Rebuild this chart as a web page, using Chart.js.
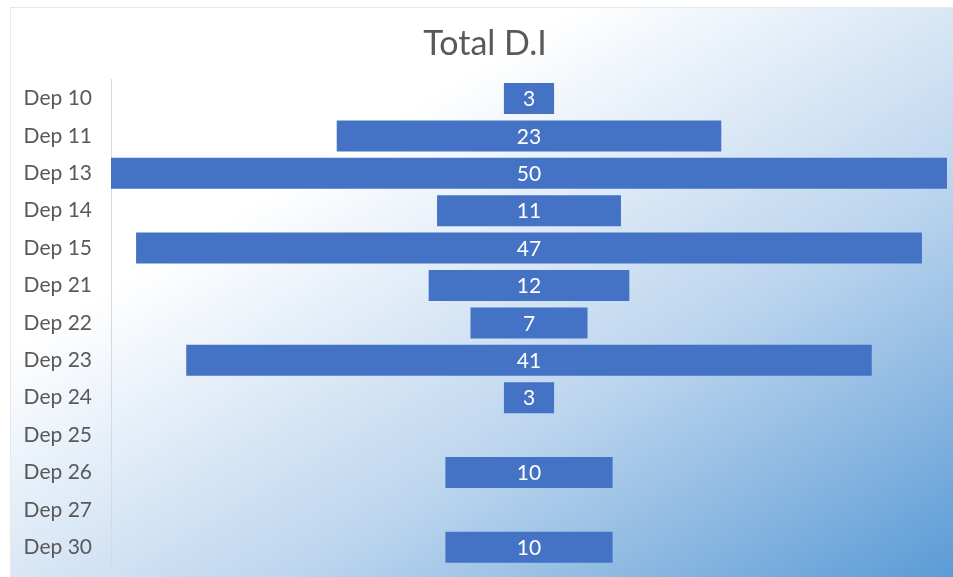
<!DOCTYPE html>
<html>
<head>
<meta charset="utf-8">
<script src="https://cdn.jsdelivr.net/npm/chart.js@4"></script>
<style>
    body { margin: 0; background: #fff; }
    #wrap {
        position: absolute; left: 10px; top: 7px; width: 942px; height: 569px;
        border: 1px solid #e8e8e8;
        background: linear-gradient(to bottom right, #ffffff 0%, #ffffff 30%, #bcd5ee 65%, #5b9bd5 100%);
    }
</style>
</head>
<body>
<div id="wrap"><canvas id="myChart" width="942" height="569"></canvas></div>
<script>
// categorias y totales
const departamentos = ['Dep 10', 'Dep 11', 'Dep 13', 'Dep 14', 'Dep 15', 'Dep 21', 'Dep 22', 'Dep 23', 'Dep 24', 'Dep 25', 'Dep 26', 'Dep 27', 'Dep 30'];
const totales = [3, 23, 50, 11, 47, 12, 7, 41, 3, null, 10, null, 10];
const maxValor = 50;

// barras centradas tipo embudo
const barras = totales.map(v => v == null ? null : [-v / 2, v / 2]);

const etiquetas = {
    id: 'etiquetas',
    afterDatasetsDraw(chart) {
        const ctx = chart.ctx;
        const meta = chart.getDatasetMeta(0);
        ctx.save();
        ctx.fillStyle = '#ffffff';
        ctx.font = '21px Lato, "Open Sans", sans-serif';
        ctx.textAlign = 'center';
        ctx.textBaseline = 'middle';
        meta.data.forEach((bar, i) => {
            if (totales[i] == null) return;
            ctx.fillText(totales[i], chart.scales.x.getPixelForValue(0), bar.y + 1);
        });
        ctx.restore();
    }
};

var ctx = document.getElementById('myChart').getContext('2d');
var myChart = new Chart(ctx, {
    type: 'bar',
    data: {
        labels: departamentos,
        datasets: [{
            label: 'Total D.I',
            data: barras,
            backgroundColor: '#4472c4',
            borderSkipped: false,
            barPercentage: 0.83,
            categoryPercentage: 1
        }]
    },
    options: {
        indexAxis: 'y',
        responsive: false,
        animation: false,
        layout: { padding: { top: 0, right: 6, bottom: 11, left: 12 } },
        plugins: {
            legend: { display: false },
            tooltip: { enabled: false },
            title: {
                display: true,
                text: 'Total D.I',
                color: '#595959',
                font: { size: 34, family: 'Lato, "Open Sans", sans-serif', weight: 'normal' },
                padding: { top: 16, bottom: 15 }
            }
        },
        scales: {
            x: {
                display: false,
                min: -maxValor / 2,
                max: maxValor / 2
            },
            y: {
                afterFit: (scale) => {
                    scale.width = 88;
                    scale.paddingTop = 0;
                    scale.paddingBottom = 0;
                },
                grid: { display: false, drawTicks: false },
                border: { display: true, color: '#d9d9d9', width: 1 },
                ticks: {
                    color: '#595959',
                    padding: 19,
                    font: { size: 21, family: 'Lato, "Open Sans", sans-serif' }
                }
            }
        }
    },
    plugins: [etiquetas]
});
</script>
</body>
</html>
